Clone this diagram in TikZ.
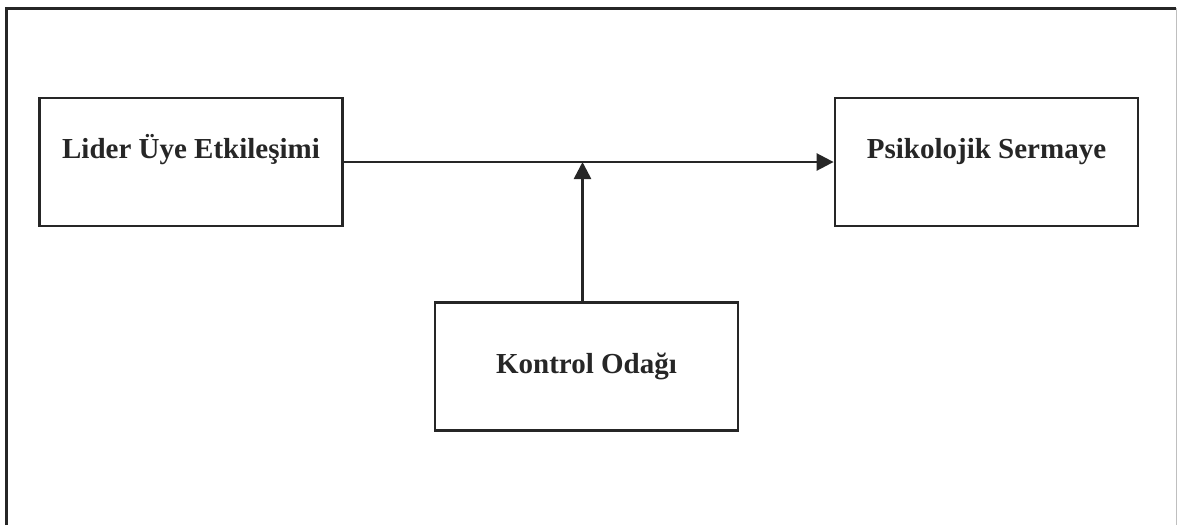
\documentclass[tikz,border=0pt]{standalone}
\usepackage{fontspec}
\setmainfont{Liberation Serif}
\usetikzlibrary{positioning, arrows.meta}

\begin{document}
\begin{tikzpicture}[
    x=1pt, y=-1pt,
    box/.style={draw=black!85, line width=2.8pt, minimum width=303pt, minimum height=128pt,
        inner sep=0pt, font=\fontsize{29}{34}\selectfont\bfseries, text=black!85},
    upper/.style={text height=20pt, text depth=28pt},
    arr/.style={line width=2.6pt, draw=black!85,
        -{Triangle[length=17pt, width=17pt]}}
]

% page size and outer frame
\useasboundingbox (0,0) rectangle (1177,525);
\draw[black!85, line width=3pt] (6,525) -- (6,8) -- (1176,8);
\draw[black!25, line width=1pt] (1176,8) -- (1176,525);

% the three boxes
\node[box, upper] (lue) at (191,162) {Lider Üye Etkileşimi};
\node[box, upper] (psi) at (986.5,162) {Psikolojik Sermaye};
\node[box] (odak) at (586.5,366.5) {Kontrol Odağı};

% main path and moderator
\coordinate (mod) at ([xshift=-4pt]odak.north);
\draw[arr] (lue) -- (psi);
\draw[arr] (mod) -- (mod |- lue.east);

\end{tikzpicture}
\end{document}
